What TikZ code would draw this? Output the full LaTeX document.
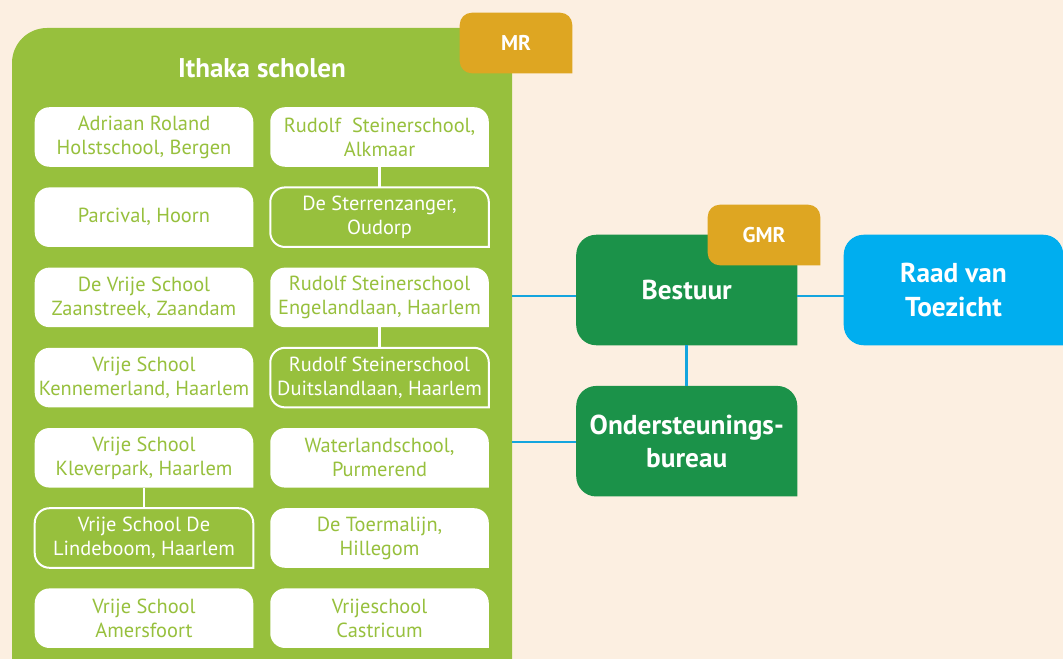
\documentclass[tikz,border=0pt]{standalone}
\usepackage{fontspec}
\setmainfont{PT Sans}
\usepackage{tikz}
\usetikzlibrary{backgrounds}
\usetikzlibrary{positioning}
\definecolor{ithgreen}{RGB}{151,192,61}
\definecolor{bestgreen}{RGB}{27,146,73}
\definecolor{tabgold}{RGB}{222,166,34}
\definecolor{raadblue}{RGB}{0,174,239}
\definecolor{linkblue}{RGB}{20,165,222}
\definecolor{paper}{RGB}{252,239,225}

% 右下角不圓的方框
\newcommand{\cornerbox}[3]{%
  \path[#3] (#1.south east) -- ([yshift=-#2]#1.north east)
    arc[start angle=0, end angle=90, radius=#2]
    -- ([xshift=#2]#1.north west)
    arc[start angle=90, end angle=180, radius=#2]
    -- ([yshift=#2]#1.south west)
    arc[start angle=180, end angle=270, radius=#2] -- cycle;}

\begin{document}
\begin{tikzpicture}[
    x=0.75pt, y=-0.75pt,
    school/.style={
        align=center,
        minimum width=163.5pt,
        minimum height=44.25pt,
        inner sep=0pt,
        text=ithgreen,
        font=\fontsize{15.3}{18}\selectfont
    },
    schoolalt/.style={
        school,
        text=white
    },
    tab/.style={
        minimum width=84pt,
        minimum height=45pt,
        inner sep=0pt,
        text=white,
        font=\bfseries\fontsize{16}{18}\selectfont
    },
    board/.style={
        align=center,
        minimum width=165.4pt,
        minimum height=82.5pt,
        inner sep=0pt,
        text=white,
        font=\bfseries\fontsize{20.5}{25}\selectfont
    },
    link/.style={draw=linkblue, line width=2pt},
    stem/.style={draw=white, line width=2pt},
    node distance=15.5pt and 12.75pt
]
\useasboundingbox (0,0) rectangle (1063,659);
% --- 背景與綠色面板 ---
\begin{scope}[on background layer]
    \fill[paper] (0,0) rectangle (1063,659);
    \fill[ithgreen] (12,659) -- (12,63) arc[start angle=180, end angle=90, radius=26.25pt]
        -- (512,28) -- (512,659) -- cycle;
\end{scope}

% 標題
\node[font=\bfseries\fontsize{20.3}{24}\selectfont, text=white] (titel) at (262,68) {Ithaka scholen};
\node[tab] (mr) at (516,43) {MR};

% --- 學校: 左欄 ---
\node[school] (adriaan) at (144,137) {Adriaan Roland\\Holstschool, Bergen};
\node[school, below=of adriaan] (parcival) {Parcival, Hoorn};
\node[school, below=of parcival] (zaanstreek) {De Vrije School\\Zaanstreek, Zaandam};
\node[school, below=of zaanstreek] (kennemerland) {Vrije School\\Kennemerland, Haarlem};
\node[school, below=of kennemerland] (kleverpark) {Vrije School\\Kleverpark, Haarlem};
\node[schoolalt, below=of kleverpark] (lindeboom) {Vrije School De\\Lindeboom, Haarlem};
\node[school, below=of lindeboom] (amersfoort) {Vrije School\\Amersfoort};

% --- 學校: 右欄 ---
\node[school, right=of adriaan] (alkmaar) {Rudolf\ \ Steinerschool,\\Alkmaar};
\node[schoolalt, below=of alkmaar] (sterrenzanger) {De Sterrenzanger,\\Oudorp};
\node[school, below=of sterrenzanger] (engelandlaan) {Rudolf Steinerschool\\Engelandlaan, Haarlem};
\node[schoolalt, below=of engelandlaan] (duitslandlaan) {Rudolf Steinerschool\\Duitslandlaan, Haarlem};
\node[school, below=of duitslandlaan] (waterland) {Waterlandschool,\\Purmerend};
\node[school, below=of waterland] (toermalijn) {De Toermalijn,\\Hillegom};
\node[school, below=of toermalijn] (castricum) {Vrijeschool\\Castricum};

% --- 右側組織 ---
\node[board] (bestuur) at (686.75,290) {Bestuur};
\node[board] (onder) at (686.75,441.2) {Ondersteunings-\\bureau};
\node[tab] (gmr) at (764,235) {GMR};
\node[board, minimum width=164.25pt] (raad) at (953.5,290) {Raad van\\Toezicht};

% 方框形狀
\begin{scope}[on background layer]
    \cornerbox{adriaan}{11pt}{fill=white}
    \cornerbox{parcival}{11pt}{fill=white}
    \cornerbox{zaanstreek}{11pt}{fill=white}
    \cornerbox{kennemerland}{11pt}{fill=white}
    \cornerbox{kleverpark}{11pt}{fill=white}
    \cornerbox{amersfoort}{11pt}{fill=white}
    \cornerbox{alkmaar}{11pt}{fill=white}
    \cornerbox{engelandlaan}{11pt}{fill=white}
    \cornerbox{waterland}{11pt}{fill=white}
    \cornerbox{toermalijn}{11pt}{fill=white}
    \cornerbox{castricum}{11pt}{fill=white}
    \cornerbox{lindeboom}{11pt}{fill=ithgreen, draw=white, line width=1.5pt}
    \cornerbox{sterrenzanger}{11pt}{fill=ithgreen, draw=white, line width=1.5pt}
    \cornerbox{duitslandlaan}{11pt}{fill=ithgreen, draw=white, line width=1.5pt}
    \cornerbox{mr}{9pt}{fill=tabgold}
    \cornerbox{bestuur}{15pt}{fill=bestgreen}
    \cornerbox{onder}{15pt}{fill=bestgreen}
    \cornerbox{gmr}{9pt}{fill=tabgold}
    \cornerbox{raad}{15pt}{fill=raadblue}
\end{scope}

% --- 連線 ---
\coordinate (pb) at (512,296);
\coordinate (po) at (512,442);
\draw[link] (pb) -- (pb -| bestuur.west);
\draw[link] (pb -| bestuur.east) -- (pb -| raad.west);
\draw[link] (bestuur.south) -- (onder.north);
\draw[link] (po) -- (po -| onder.west);
\draw[stem] (alkmaar.south) -- (sterrenzanger.north);
\draw[stem] (engelandlaan.south) -- (duitslandlaan.north);
\draw[stem] (kleverpark.south) -- (lindeboom.north);
\end{tikzpicture}
\end{document}
